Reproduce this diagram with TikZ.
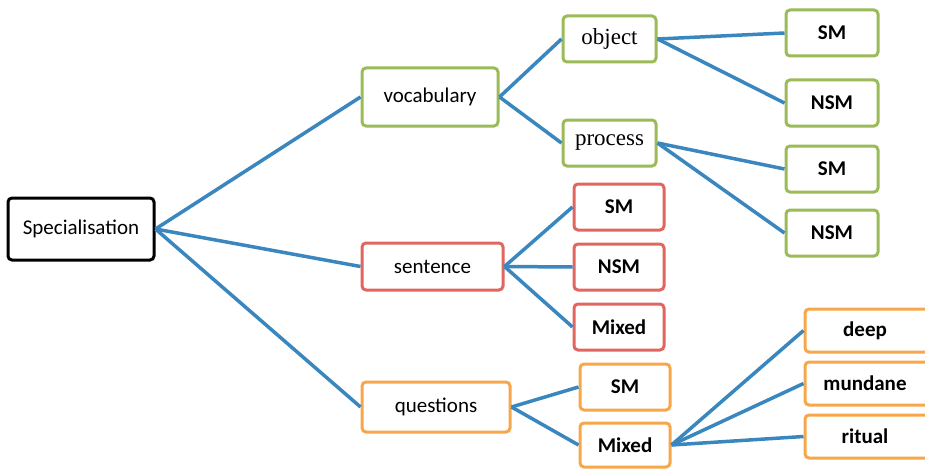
\documentclass[tikz,border=0pt]{standalone}
\usepackage{fontspec}
\setmainfont{Carlito}
\newfontfamily\serifc{Liberation Serif}
\definecolor{linkblue}{HTML}{3A87BF}
\definecolor{gbox}{HTML}{9BBB59}
\definecolor{rbox}{HTML}{E0665F}
\definecolor{obox}{HTML}{F7A64A}
\begin{document}
\begin{tikzpicture}[x=1pt,y=-1pt,
  box/.style={draw,line width=3pt,rounded corners=4pt,fill=white,inner sep=0pt,font=\fontsize{21}{24}\selectfont},
  gb/.style={box,draw=gbox},
  rb/.style={box,draw=rbox},
  ob/.style={box,draw=obox},
  leaf/.style={font=\fontsize{21}{24}\selectfont\bfseries},
  sr/.style={font=\fontsize{23}{26}\selectfont\serifc},
  link/.style={draw=linkblue,line width=3.5pt}]
\useasboundingbox (0,0) rectangle (925,468);
\begin{scope}
\clip (0,0) rectangle (925,468);
\node[box,draw=black,minimum width=146pt,minimum height=62pt] (spec) at (81,229) {Specialisation};
\node[gb,minimum width=136pt,minimum height=58pt] (voc) at (430,97) {vocabulary};
\node[gb,sr,minimum width=93pt,minimum height=46pt] (obj) at (609.5,39) {object};
\node[gb,sr,minimum width=93pt,minimum height=46pt] (proc) at (609.5,143) {process};
\node[gb,leaf,minimum width=92pt,minimum height=46pt] (osm) at (832,33) {SM};
\node[gb,leaf,minimum width=92pt,minimum height=46pt] (onsm) at (832,103) {NSM};
\node[gb,leaf,minimum width=92pt,minimum height=46pt] (psm) at (832,169) {SM};
\node[gb,leaf,minimum width=92pt,minimum height=46pt] (pnsm) at (832,233) {NSM};
\node[rb,minimum width=141pt,minimum height=47pt] (sen) at (432.5,266.5) {sentence};
\node[rb,leaf,minimum width=90pt,minimum height=46pt] (ssm) at (619,207) {SM};
\node[rb,leaf,minimum width=90pt,minimum height=46pt] (snsm) at (619,267) {NSM};
\node[rb,leaf,minimum width=90pt,minimum height=46pt] (smix) at (619,327) {Mixed};
\node[ob,minimum width=148pt,minimum height=50pt] (que) at (436,407) {questions};
\node[ob,leaf,minimum width=90pt,minimum height=46pt] (qsm) at (625,387) {SM};
\node[ob,leaf,minimum width=90pt,minimum height=44pt] (qmix) at (625,445) {Mixed};
\node[ob,leaf,minimum width=130pt,minimum height=43pt] (deep) at (870,330.5) {\hspace*{-10pt}deep};
\node[ob,leaf,minimum width=130pt,minimum height=43pt] (mund) at (870,383.5) {\hspace*{-10pt}mundane};
\node[ob,leaf,minimum width=130pt,minimum height=43pt] (rit) at (870,436.5) {\hspace*{-10pt}ritual};
\end{scope}
\path[link] (spec.east) -- (voc.west);
\path[link] (spec.east) -- (sen.west);
\path[link] (spec.east) -- (que.west);
\path[link] (voc.east) -- (obj.west);
\path[link] (voc.east) -- (proc.west);
\path[link] (obj.east) -- (osm.west);
\path[link] (obj.east) -- (onsm.west);
\path[link] (proc.east) -- (psm.west);
\path[link] (proc.east) -- (pnsm.west);
\path[link] (sen.east) -- (ssm.west);
\path[link] (sen.east) -- (snsm.west);
\path[link] (sen.east) -- (smix.west);
\path[link] (que.east) -- (qsm.west);
\path[link] (que.east) -- (qmix.west);
\path[link] (qmix.east) -- (deep.west);
\path[link] (qmix.east) -- (mund.west);
\path[link] (qmix.east) -- (rit.west);
\end{tikzpicture}
\end{document}
